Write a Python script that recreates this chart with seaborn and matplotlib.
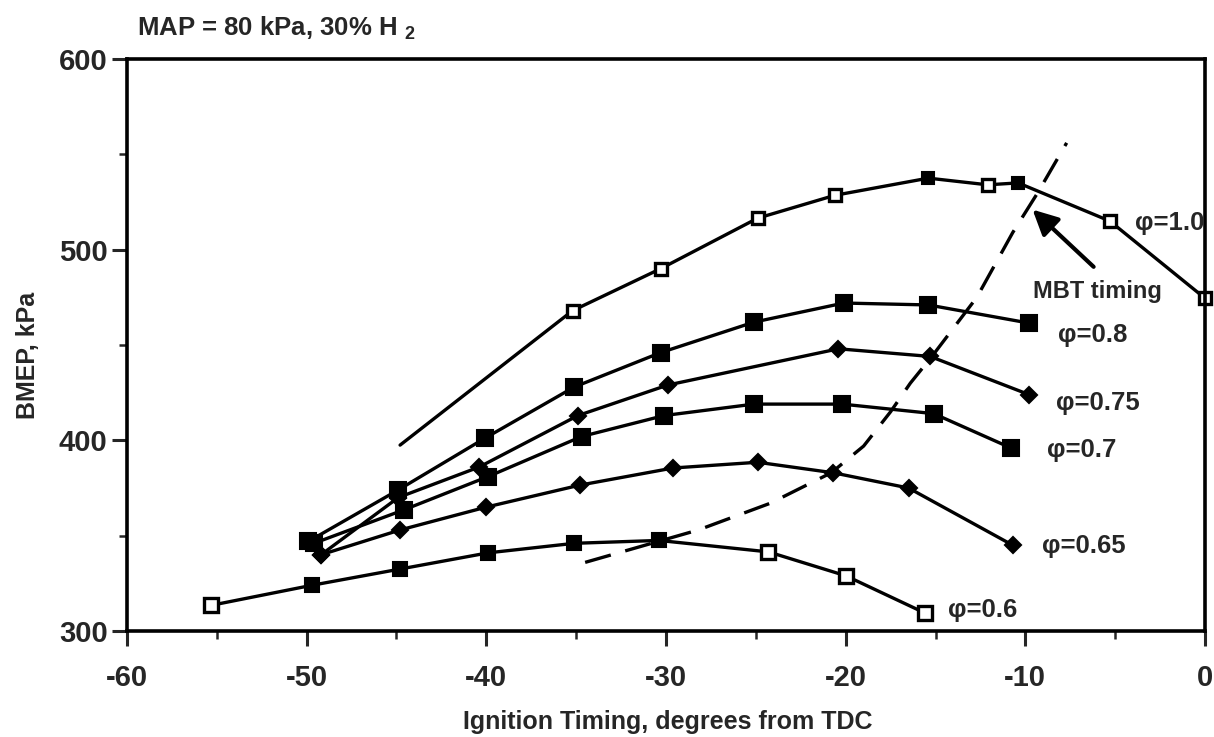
import matplotlib
matplotlib.use("Agg")
import matplotlib.pyplot as plt
from matplotlib.ticker import MultipleLocator
import seaborn as sns

# ---- data (ignition timing in degrees, BMEP in kPa) ----
timing_phi10 = [-44.8, -35.2, -30.3, -24.9, -20.6, -15.4, -12.1, -10.4, -5.3, 0.0]
bmep_phi10 = [397.5, 468, 490, 516.5, 528.5, 537.5, 534, 535, 515, 474.5]

timing_phi08 = [-49.9, -44.9, -40.1, -35.1, -30.3, -25.1, -20.1, -15.4, -9.8]
bmep_phi08 = [347, 374, 401, 428, 446, 462, 472, 471, 461.5]

timing_phi075 = [-49.2, -44.9, -40.4, -34.9, -29.9, -20.4, -15.3, -9.8]
bmep_phi075 = [340, 370, 386, 413, 429, 448, 444, 424]

timing_phi07 = [-49.6, -44.6, -39.9, -34.7, -30.1, -25.1, -20.2, -15.1, -10.8]
bmep_phi07 = [346, 363.5, 381, 402, 413, 419, 419, 414, 396]

timing_phi065 = [-49.2, -44.8, -40.0, -34.8, -29.6, -24.9, -20.7, -16.5, -10.7]
bmep_phi065 = [340, 353, 365, 376.5, 385.5, 388.5, 383, 375, 345]

timing_phi06 = [-55.3, -49.7, -44.8, -39.9, -35.1, -30.4, -24.3, -20.0, -15.6]
bmep_phi06 = [313.5, 324, 332.5, 341, 346, 347.5, 341.5, 329, 309.5]

timing_mbt = [-34.5, -28.2, -24.2, -20.8, -19.0, -17.5, -16.4, -15.2, -12.7, -10.7, -9.3, -7.7]
bmep_mbt = [336, 353, 367, 383, 397, 415, 430, 444, 475, 509, 530, 556]

series_labels = ["\u03c6=1.0", "\u03c6=0.8", "\u03c6=0.75", "\u03c6=0.7", "\u03c6=0.65", "\u03c6=0.6"]
x_ticks = [-60, -50, -40, -30, -20, -10, 0]
y_ticks = [300, 400, 500, 600]

# ---- style ----
sns.set_style("ticks")
plt.rcParams["font.family"] = ["Liberation Sans", "DejaVu Sans"]
plt.rcParams["font.weight"] = "bold"
plt.rcParams["axes.unicode_minus"] = False
plt.rcParams["mathtext.fontset"] = "custom"
plt.rcParams["mathtext.rm"] = "Liberation Sans:bold"
plt.rcParams["mathtext.bf"] = "Liberation Sans:bold"
plt.rcParams["mathtext.it"] = "Liberation Sans:bold"

fig = plt.figure(figsize=(12.14, 7.37), dpi=100)
ax = fig.add_axes([0.1046, 0.1438, 0.8880, 0.7762])

LW = 2.4


def draw(xs, ys, marker, ms, filled_idx, open_idx):
    sns.lineplot(x=xs, y=ys, sort=False, estimator=None, color="black", lw=LW, ax=ax)
    if filled_idx:
        sns.lineplot(x=xs, y=ys, sort=False, estimator=None, color="black", lw=0,
                     marker=marker, markevery=filled_idx, markersize=ms,
                     markerfacecolor="black", markeredgecolor="black", markeredgewidth=1.5,
                     clip_on=False, ax=ax)
    if open_idx:
        sns.lineplot(x=xs, y=ys, sort=False, estimator=None, color="black", lw=0,
                     marker=marker, markevery=open_idx, markersize=ms,
                     markerfacecolor="white", markeredgecolor="black", markeredgewidth=2.4,
                     clip_on=False, ax=ax)


draw(timing_phi10, bmep_phi10, "s", 8.5, [5, 7], [1, 2, 3, 4, 6, 8, 9])
draw(timing_phi08, bmep_phi08, "s", 11, list(range(len(timing_phi08))), [])
draw(timing_phi075, bmep_phi075, "D", 8, list(range(len(timing_phi075))), [])
draw(timing_phi07, bmep_phi07, "s", 11, list(range(len(timing_phi07))), [])
draw(timing_phi065, bmep_phi065, "D", 8, list(range(len(timing_phi065))), [])
draw(timing_phi06, bmep_phi06, "s", 9.5, [1, 2, 3, 4, 5], [0, 6, 7, 8])

# MBT timing dashed line
sns.lineplot(x=timing_mbt, y=bmep_mbt, sort=False, estimator=None, color="black",
             lw=LW, ax=ax)
ax.lines[-1].set_dashes([8, 4.5])

# arrow and annotations
ax.annotate("", xy=(-9.6, 521), xytext=(-6.2, 491),
            arrowprops=dict(arrowstyle="-|>", color="black", lw=3, mutation_scale=38,
                            shrinkA=0, shrinkB=0))
ax.text(-9.55, 478.3, "MBT timing", fontsize=17, fontweight="bold", ha="left", va="center")

label_pos = [(-3.9, 514), (-8.2, 455), (-8.3, 419.6), (-8.8, 395), (-9.1, 344.6), (-14.3, 311)]
for lab, (tx, ty) in zip(series_labels, label_pos):
    ax.text(tx, ty, lab, fontsize=18.5, fontweight="bold", ha="left", va="center")

# axes
ax.set_xlim(-60, 0)
ax.set_ylim(300, 600)
ax.set_xticks(x_ticks)
ax.set_yticks(y_ticks)
ax.xaxis.set_minor_locator(MultipleLocator(5))
ax.yaxis.set_minor_locator(MultipleLocator(50))
ax.tick_params(which="major", direction="out", length=11, width=2.2, labelsize=21)
ax.tick_params(which="minor", direction="out", length=6, width=1.8)
ax.tick_params(axis="x", which="major", pad=13)
ax.tick_params(axis="y", which="major", pad=3)
for lbl in ax.get_xticklabels() + ax.get_yticklabels():
    lbl.set_fontweight("bold")
for sp in ax.spines.values():
    sp.set_linewidth(2.6)
    sp.set_color("black")

ax.set_xlabel("Ignition Timing, degrees from TDC", fontsize=18, fontweight="bold")
ax.set_ylabel("BMEP, kPa", fontsize=18, fontweight="bold")
ax.xaxis.label.set_va("center")
ax.yaxis.label.set_va("center")
ax.xaxis.set_label_coords(0.502, -0.159)
ax.yaxis.set_label_coords(-0.0918, 0.4825)

fig.text(137 / 1214, 1 - 28 / 737, r"MAP = 80 kPa, 30% H $_{2}$", fontsize=18.5,
         fontweight="bold", ha="left", va="center")

fig.savefig("out.png", dpi=100, facecolor="white")
